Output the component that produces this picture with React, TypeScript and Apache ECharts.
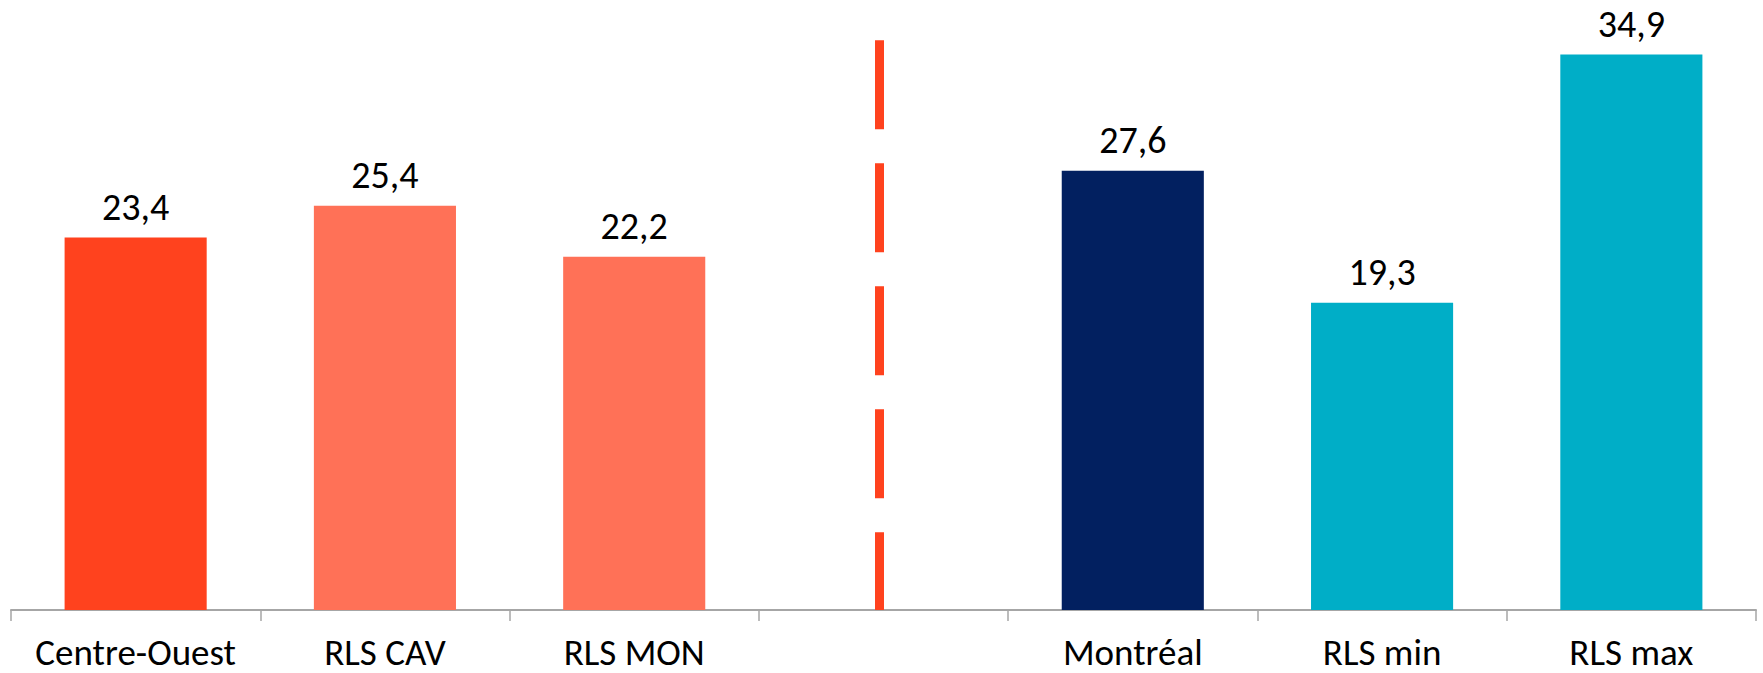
import React, { useEffect, useRef } from "react";
import * as echarts from "echarts";

const categories = ["Centre-Ouest", "RLS CAV", "RLS MON", "", "Montréal", "RLS min", "RLS max"];
const values: (number | null)[] = [23.4, 25.4, 22.2, null, 27.6, 19.3, 34.9];
const barColors = ["#FF421E", "#FF7157", "#FF7157", "#FF421E", "#022060", "#00AEC7", "#00AEC7"];
const separatorIndex = 3;
const separatorTop = 35.8;

const FONT = "Carlito, Lato, 'Noto Sans', sans-serif";

export default function App() {
  const ref = useRef<HTMLDivElement>(null);
  useEffect(() => {
    if (!ref.current) return;
    const chart = echarts.init(ref.current, null, { renderer: "svg" });
    chart.setOption({
      animation: false,
      backgroundColor: "#ffffff",
      grid: { left: 11, right: 7, top: 53, bottom: 63, containLabel: false },
      xAxis: {
        type: "category",
        data: categories,
        axisLine: { show: true, lineStyle: { color: "#A6A6A6", width: 2 } },
        axisTick: { show: true, length: 11, lineStyle: { color: "#A6A6A6", width: 1.5 } },
        axisLabel: {
          color: "#000000",
          fontSize: 37,
          lineHeight: 30,
          fontFamily: FONT,
          margin: 27,
          interval: 0,
        },
      },
      yAxis: {
        type: "value",
        min: 0,
        max: 35,
        show: false,
        splitLine: { show: false },
      },
      series: [
        {
          type: "bar",
          data: values.map((v, i) => ({ value: v, itemStyle: { color: barColors[i] } })),
          barCategoryGap: "43%",
          label: {
            show: true,
            position: "top",
            distance: 12,
            color: "#000000",
            fontSize: 38,
            fontFamily: FONT,
            formatter: (p: any) => (p.value == null ? "" : String(p.value.toFixed(1)).replace(".", ",")),
          },
        },
      ],
    });
    const top = chart.convertToPixel({ gridIndex: 0 }, [separatorIndex, separatorTop]) as number[];
    const bottom = chart.convertToPixel({ gridIndex: 0 }, [separatorIndex, 0]) as number[];
    const x = top[0] - 4;
    chart.setOption({
      graphic: [
        {
          type: "line",
          silent: true,
          shape: { x1: x, y1: top[1], x2: x, y2: bottom[1] },
          style: { stroke: "#FF421E", lineWidth: 9, lineDash: [89, 34] },
          z: 10,
        },
      ],
    });
    return () => chart.dispose();
  }, []);
  return (
    <div
      ref={ref}
      style={{ position: "absolute", left: 0, top: 0, width: 1763, height: 673 }}
    />
  );
}
